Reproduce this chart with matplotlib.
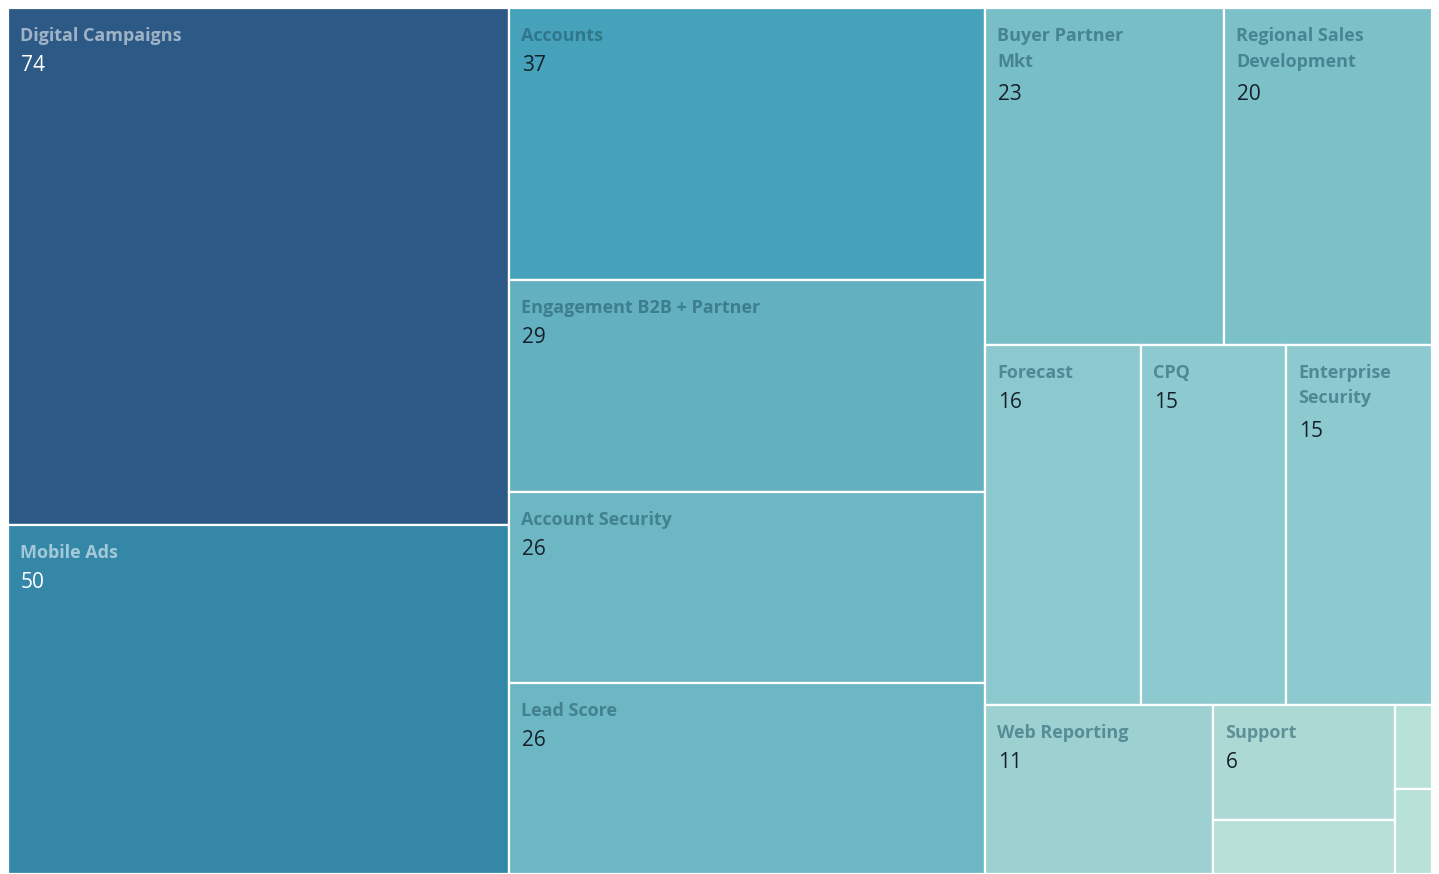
import matplotlib
matplotlib.use('Agg')
import matplotlib.pyplot as plt
from matplotlib.patches import Rectangle

plt.rcParams['font.family'] = ['Open Sans', 'DejaVu Sans']

# categories (labels are blurred in the reference, so these are stand-ins)
labels = ['Digital Campaigns', 'Mobile Ads', 'Accounts',
          'Engagement B2B + Partner', 'Account Security', 'Lead Score',
          'Buyer Partner\nMkt', 'Regional Sales\nDevelopment', 'Forecast',
          'CPQ', 'Enterprise\nSecurity', 'Web Reporting', 'Support', '', '', '']
# last three tiles carry no number in the picture, sizes estimated from area
values = [74, 50, 37, 29, 26, 26, 23, 20, 16, 15, 15, 11, 6, 2.8, 0.9, 0.9]
colors = ['#2C5985', '#3587A8', '#46A2BA', '#63B0C0', '#6CB7C3', '#6CB7C3',
          '#77BEC6', '#7DC1C8', '#8BC9CE', '#8CCACF', '#8CCACF', '#9DD1D1',
          '#ACD9D4', '#B6E0D7', '#B8E1D8', '#B8E1D8']

# how the tiles are nested: 'h' = side by side, 'v' = stacked
layout = ('h', [('v', [0, 1]),
                ('v', [2, 3, 4, 5]),
                ('v', [('h', [6, 7]),
                       ('h', [8, 9, 10]),
                       ('h', [11, ('v', [12, 13]), ('v', [14, 15])])])])


def total(node):
    if isinstance(node, int):
        return values[node]
    return sum(total(c) for c in node[1])


def split(node, x, y, w, h, out):
    if isinstance(node, int):
        out.append((node, x, y, w, h))
        return
    kind, kids = node
    s = total(node)
    pos = 0
    for c in kids:
        f = total(c) / s
        if kind == 'h':
            split(c, x + pos, y, w * f, h, out)
            pos += w * f
        else:
            split(c, x, y + pos, w, h * f, out)
            pos += h * f


W, H = 1439, 874
fig = plt.figure(figsize=(W / 100, H / 100), dpi=100)
ax = fig.add_axes([0, 0, 1, 1])
ax.set_xlim(0, W)
ax.set_ylim(H, 0)
ax.axis('off')

tiles = []
split(layout, 8, 8, 1424, 866, tiles)

for i, x, y, w, h in tiles:
    ax.add_patch(Rectangle((x, y), w, h, facecolor=colors[i],
                           edgecolor='white', linewidth=1.6))
    if not labels[i]:
        continue
    dark = values[i] >= 50
    lab_col = 'white' if dark else '#1E5566'
    num_col = 'white' if dark else '#16202A'
    ax.text(x + 12, y + 19, labels[i], fontsize=13, color=lab_col,
            alpha=0.55, va='top', ha='left', linespacing=1.55,
            fontweight='bold')
    nlines = labels[i].count('\n') + 1
    ax.text(x + 13, y + 18 + 29 * nlines, str(values[i]), fontsize=15,
            color=num_col, va='top', ha='left')

fig.savefig('out.png', dpi=100, facecolor='white')
